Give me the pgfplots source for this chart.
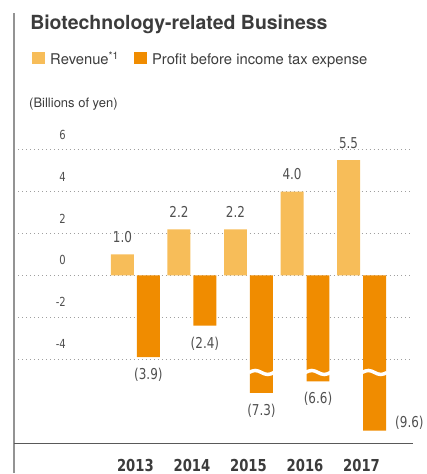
\documentclass[border=0pt]{standalone}
\usepackage{pgfplots}
\pgfplotsset{compat=1.18}
\usepackage{pgfplotstable}
\usepackage{fontspec}
\setmainfont{TeX Gyre Heros}
\newfontfamily\numfont{DejaVu Sans}[FakeStretch=0.8]

\definecolor{revcol}{HTML}{F7BD59}
\definecolor{profcol}{HTML}{F08C00}
\definecolor{txt}{HTML}{3C3C3C}
\definecolor{numtxt}{HTML}{505050}

% profshown = drawn length of the broken bars (scale break)
\pgfplotstableread{
x rev revlab prof profshown proflab
0 1.0 1.0 -3.9 -3.9 (3.9)
1 2.2 2.2 -2.4 -2.4 (2.4)
2 2.2 2.2 -7.3 -5.6 (7.3)
3 4.0 4.0 -6.6 -5.05 (6.6)
4 5.5 5.5 -9.6 -7.4 {}
}\biotech

\begin{document}
\begin{tikzpicture}
\begin{axis}[
    scale only axis,
    width=427pt, height=474pt,
    xmin=-2.393, xmax=5.148,
    ymin=-9.443, ymax=13.129,
    axis line style={draw=none},
    major tick length=0pt,
    clip=false,
    ybar, bar width=23pt,
    xtick=data,
    xticklabels={2013,2014,2015,2016,2017},
    xticklabel style={font=\numfont\bfseries\fontsize{16.5}{16.5}\selectfont,
        text=txt, anchor=base, inner sep=0pt, yshift=2pt},
    ytick={-4,-2,0,2,4,6},
    yticklabels={-4,-2,0,2,4,6},
    yticklabel style={font=\numfont\fontsize{12.5}{12.5}\selectfont,
        text=numtxt, anchor=east, inner sep=0pt, xshift=66pt, yshift=15pt},
    every node near coord/.append style={font=\numfont\fontsize{15}{15}\selectfont,
        text=numtxt, anchor=center, inner sep=0pt},
    ]
    % dotted grid lines
    \pgfplotsinvokeforeach{-4,-2,0,2,4,6}{
        \draw[line width=0.9pt, gray!75, dash pattern=on 0.9pt off 3.1pt]
            (axis cs:-2.146,#1) -- (axis cs:4.918,#1);
    }

    \addplot[fill=revcol, draw=none, bar shift=-13pt,
        nodes near coords, point meta=explicit symbolic,
        every node near coord/.append style={yshift=17pt}]
        table[x=x, y=rev, meta=revlab] {\biotech};
    \addplot[fill=profcol, draw=none, bar shift=13pt,
        nodes near coords, point meta=explicit symbolic,
        every node near coord/.append style={yshift=-18pt}]
        table[x=x, y=profshown, meta=proflab] {\biotech};

    % scale-break waves on the truncated bars
    \pgfplotsinvokeforeach{2,3,4}{
        \draw[white, line width=3.5pt]
            ([xshift=0.5pt]axis cs:#1,-4.63) sin ++(6.25pt,2pt) cos ++(6.25pt,-2pt)
            sin ++(6.25pt,-2pt) cos ++(6.25pt,2pt);
    }
    \node[anchor=west, inner sep=0pt, text=numtxt, font=\numfont\fontsize{15}{15}\selectfont,
        xshift=33.5pt, yshift=7.7pt] at (axis cs:4,-7.4) {(9.6)};

    % frame lines
    \draw[gray!85, line width=1.2pt] (axis cs:-2.146,12.5) -- (axis cs:-2.146,-9.443);
    \draw[txt!85, line width=1pt] (axis cs:-2.146,-8.029) -- (axis cs:4.918,-8.029);

    % title and legend
    \node[anchor=base west, inner sep=0, text=txt,
        font=\bfseries\fontsize{19.5}{19.5}\selectfont]
        at (axis cs:-1.863,11.748) {Biotechnology-related Business};
    \fill[revcol] (axis cs:-1.828,10.067) rectangle (axis cs:-1.598,10.667);
    \node[anchor=base west, inner sep=0, text=txt, font=\fontsize{14.8}{14.8}\selectfont]
        at (axis cs:-1.510,10.067) {Revenue\textsuperscript{*1}};
    \fill[profcol] (axis cs:-0.0265,10.067) rectangle (axis cs:0.203,10.667);
    \node[anchor=base west, inner sep=0, text=txt, font=\fontsize{14.8}{14.8}\selectfont]
        at (axis cs:0.291,10.067) {Profit before income tax expense};
    \node[anchor=base west, inner sep=0, text=txt, font=\fontsize{13}{13}\selectfont]
        at (axis cs:-1.881,7.986) {(Billions of yen)};
\end{axis}
\end{tikzpicture}
\end{document}
